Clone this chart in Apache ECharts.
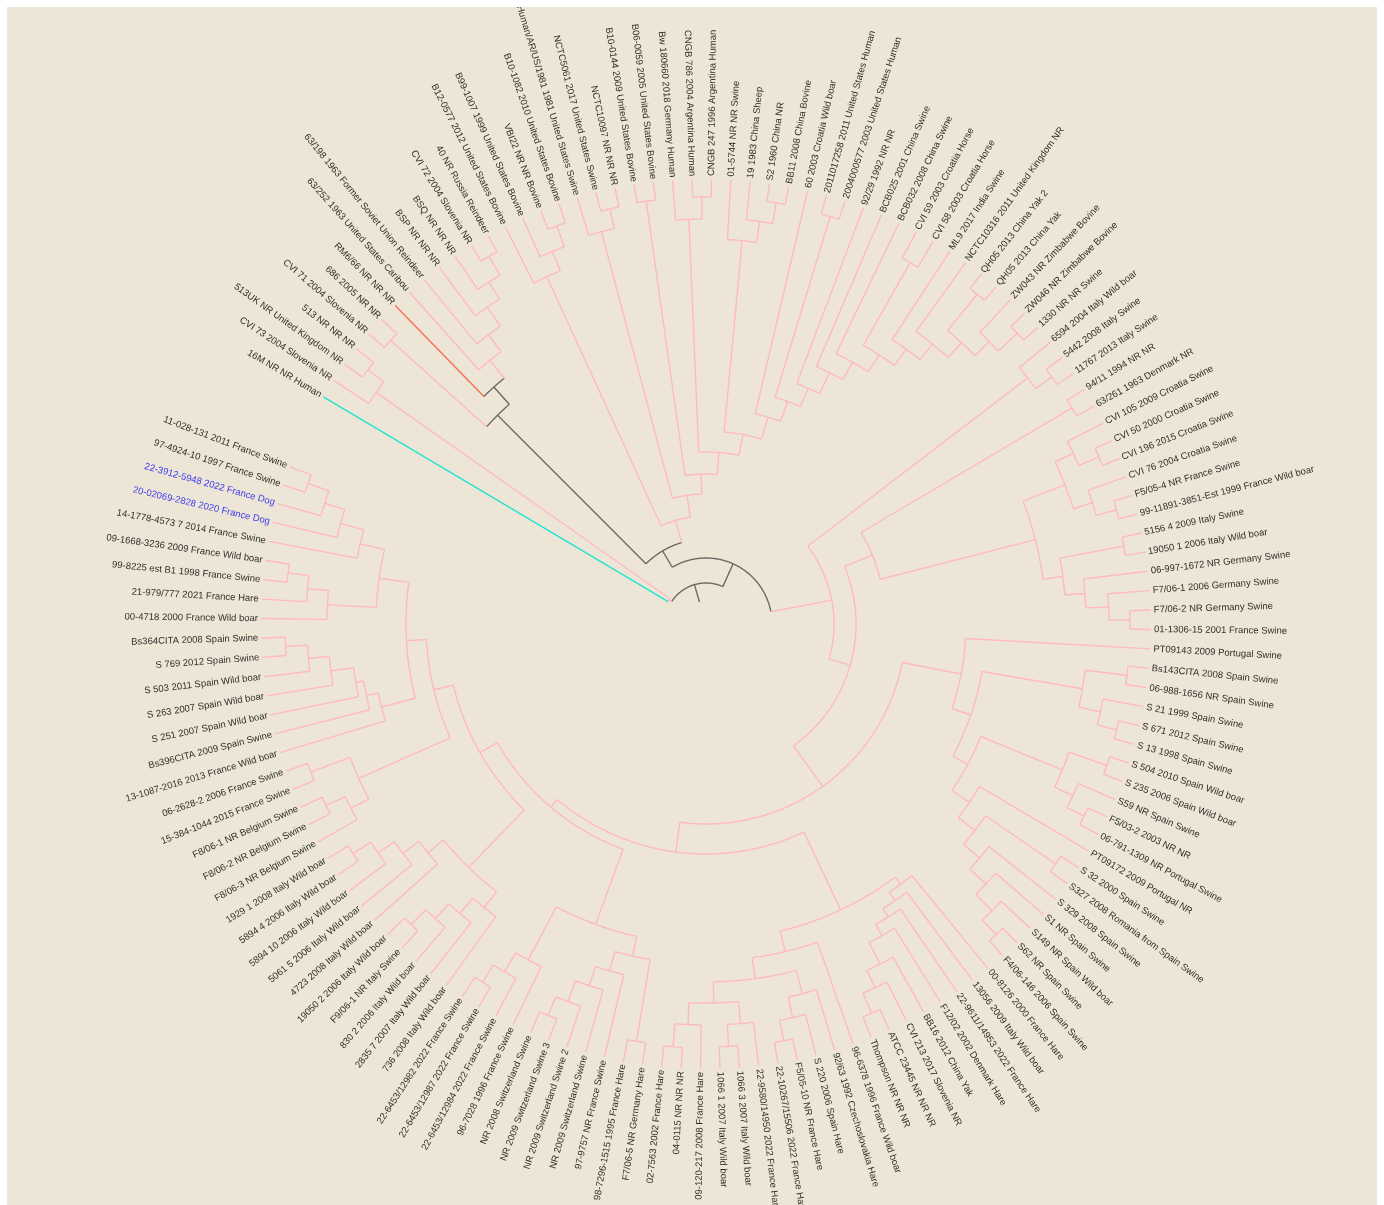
<!DOCTYPE html>
<html>
<head>
<meta charset="utf-8">
<script src="https://cdn.jsdelivr.net/npm/echarts@6/dist/echarts.min.js"></script>
<style>
  html, body { margin: 0; padding: 0; background: #ffffff; }
  #chart { position: absolute; left: 7px; top: 7px; width: 1370px; height: 1198px; background: #ede6d6; }
</style>
</head>
<body>
<div id="chart"></div>
<script>
// leaves in clockwise order starting from "16M NR NR Human"
const leafNames = [
  "16M NR NR Human", "CVI 73 2004 Slovenia NR", "513UK NR United Kingdom NR", "513 NR NR NR",
  "CVI 71 2004 Slovenia NR", "686 2005 NR NR", "RM6/66 NR NR NR", "63/252 1963 United States Caribou",
  "63/198 1963 Former Soviet Union Reindeer", "BSP NR NR NR", "BSQ NR NR NR", "CVI 72 2004 Slovenia NR",
  "40 NR Russia Reindeer", "B12-0577 2012 United States Bovine", "B99-1007 1999 United States Bovine",
  "VBI22 NR NR Bovine", "B10-1082 2010 United States Bovine", "Human/AR/US/1981 1981 United States Swine",
  "NCTC5061 2017 United States Swine", "NCTC10097 NR NR NR", "B10-0144 2009 United States Bovine",
  "B06-0059 2005 United States Bovine", "Bw 180660 2018 Germany Human", "CNGB 786 2004 Argentina Human",
  "CNGB 247 1996 Argentina Human", "01-5744 NR NR Swine", "19 1983 China Sheep", "S2 1960 China NR",
  "BB11 2008 China Bovine", "60 2003 Croatia Wild boar", "2011017258 2011 United States Human",
  "2004000577 2003 United States Human", "92/29 1992 NR NR", "BCB025 2001 China Swine",
  "BCB032 2008 China Swine", "CVI 59 2003 Croatia Horse", "CVI 58 2003 Croatia Horse",
  "ML9 2017 India Swine", "NCTC10316 2011 United Kingdom NR", "QH05 2013 China Yak 2",
  "QH05 2013 China Yak", "ZW043 NR Zimbabwe Bovine", "ZW046 NR Zimbabwe Bovine", "1330 NR NR Swine",
  "6594 2004 Italy Wild boar", "5442 2008 Italy Swine", "11767 2013 Italy Swine", "94/11 1994 NR NR",
  "63/261 1963 Denmark NR", "CVI 105 2009 Croatia Swine", "CVI 50 2000 Croatia Swine",
  "CVI 196 2015 Croatia Swine", "CVI 76 2004 Croatia Swine", "F5/05-4 NR France Swine",
  "99-11891-3851-Est 1999 France Wild boar", "5156 4 2009 Italy Swine", "19050 1 2006 Italy Wild boar",
  "06-997-1672 NR Germany Swine", "F7/06-1 2006 Germany Swine", "F7/06-2 NR Germany Swine",
  "01-1306-15 2001 France Swine", "PT09143 2009 Portugal Swine", "Bs143CITA 2008 Spain Swine",
  "06-988-1656 NR Spain Swine", "S 21 1999 Spain Swine", "S 671 2012 Spain Swine", "S 13 1998 Spain Swine",
  "S 504 2010 Spain Wild boar", "S 235 2006 Spain Wild boar", "S59 NR Spain Swine", "F5/03-2 2003 NR NR",
  "06-791-1309 NR Portugal Swine", "PT09172 2009 Portugal NR", "S 32 2000 Spain Swine",
  "S327 2008 Romania from Spain Swine", "S 329 2008 Spain Swine", "S1 NR Spain Swine",
  "S149 NR Spain Wild boar", "S62 NR Spain Swine", "F4/06-146 2006 Spain Swine", "00-8126 2000 France Hare",
  "13056 2009 Italy Wild boar", "22-9611/14953 2022 France Hare", "F12/02 2002 Denmark Hare",
  "BB16 2012 China Yak", "CVI 213 2017 Slovenia NR", "ATCC 23445 NR NR NR", "Thompson NR NR NR",
  "96-6378 1996 France Wild boar", "92/63 1992 Czechoslovakia Hare", "S 220 2006 Spain Hare",
  "F5/05-10 NR France Hare", "22-10267/15506 2022 France Hare", "22-9580/14950 2022 France Hare",
  "1066 3 2007 Italy Wild boar", "1066 1 2007 Italy Wild boar", "09-120-217 2008 France Hare",
  "04-0115 NR NR NR", "02-7563 2002 France Hare", "F7/06-5 NR Germany Hare", "98-7296-1515 1995 France Hare",
  "97-9757 NR France Swine", "NR 2009 Switzerland Swine", "NR 2009 Switzerland Swine 2",
  "NR 2009 Switzerland Swine 3", "NR 2008 Switzerland Swine", "96-7028 1996 France Swine",
  "22-6453/12984 2022 France Swine", "22-6453/12987 2022 France Swine", "22-6453/12982 2022 France Swine",
  "736 2008 Italy Wild boar", "2835 7 2007 Italy Wild boar", "830 2 2006 Italy Wild boar",
  "F9/06-1 NR Italy Swine", "19050 2 2006 Italy Wild boar", "4723 2008 Italy Wild boar",
  "5061 5 2006 Italy Wild boar", "5894 10 2006 Italy Wild boar", "5894 4 2006 Italy Wild boar",
  "1929 1 2008 Italy Wild boar", "F8/06-3 NR Belgium Swine", "F8/06-2 NR Belgium Swine",
  "F8/06-1 NR Belgium Swine", "15-384-1044 2015 France Swine", "06-2628-2 2006 France Swine",
  "13-1087-2016 2013 France Wild boar", "Bs396CITA 2009 Spain Swine", "S 251 2007 Spain Wild boar",
  "S 263 2007 Spain Wild boar", "S 503 2011 Spain Wild boar", "S 769 2012 Spain Swine",
  "Bs364CITA 2008 Spain Swine", "00-4718 2000 France Wild boar", "21-979/777 2021 France Hare",
  "99-8225 est B1 1998 France Swine", "09-1668-3236 2009 France Wild boar", "14-1778-4573 7 2014 France Swine",
  "20-02069-2828 2020 France Dog", "22-3912-5948 2022 France Dog", "97-4924-10 1997 France Swine",
  "11-028-131 2011 France Swine"
];
const blueLeaves = [138, 139];
const redLeaf = 7;
const cyanLeaf = 1;

// tree: leaf numbers, "(a,b)r" = internal node drawn at radius r
const tipRadius = 445;
const rootRadius = 23;
const cladeT1 = "(14,(15,(16,17)425)403)382";
const cladeT2 = "(18,(19,20)426)406";
const cladeT3 = "(21,22)427";
const cladeT4 = "(23,(24,25)427)405";
const cladeT5 = "(26,(27,(28,29)427)406)385";
const cladeT7 = "(31,32)426";
const cladeT11 = "(36,37)415";
const cladeT14 = "(40,41)427";
const cladeT16 = "(43,44)426";
const cladeT = `(${cladeT1},(${cladeT2},(${cladeT3},(${cladeT4},(${cladeT5},(30,(${cladeT7},(33,(34,(35,(${cladeT11},(38,(39,(${cladeT14},(42,${cladeT16})400)380)360)340)320)300)280)257)237)216)193)172)150)130)108`;
const cladeG2 = "((5,6)424,(7,(8,(9,(10,(11,(12,13)427)405)385)362)341)318)295";
const cladeC = "(1,(2,(3,4)423)403)44";
const cladeRA = "(45,(46,47)425)405";
const cladeRB = "(((50,(51,52)427)405,(53,(54,55)426)405)385,((56,57)425,(58,(59,(60,61)424)403)380)360)340";
const cladeRC = "(62,(((63,64)424,(65,(66,67)424)404)382,(((68,69)425,(70,(71,72)424)405)385,(73,((74,75)424,(76,(77,(78,(79,80)425)405)382)360)339)318)297)280)260";
const cladeRD1 = "(81,(82,(83,(84,(85,(86,(87,88)423)401)382)358)345)335)325";
const cladeQ1 = "(((97,(98,99)424)401,(94,(95,96)423)401)379,(90,(91,(92,93)424)403)382)358";
const cladeRE1 = "((100,101)423,(102,(103,(104,(105,106)422)402)380)360)340";
const cladeRE2 = "(107,(108,(109,110)422)402)380";
const cladeRE3 = "(111,(112,(113,(114,115)421)400)380)360";
const cladeRE4 = "(116,(117,(118,(119,120)421)400)380)360";
const cladeRE5 = "((121,(122,123)421)400,(124,125)422)380";
const cladeRE6 = "(126,(127,(128,(129,(130,(131,132)421)399)378)355)347)335";
const cladeRE7 = "((133,(134,(135,136)421)400)379,(137,(138,(139,(140,141)422)400)379)355)330";

const cladeRD = `(${cladeRD1},(89,${cladeQ1})337)316`;
const cladeRE = `((${cladeRE1},${cladeRE2})320,((${cladeRE3},${cladeRE4})340,(${cladeRE5},(${cladeRE6},${cladeRE7})300)280)260)240`;
const cladeR = `(${cladeRA},(((48,49)425,${cladeRB})180,(${cladeRC},(${cladeRD},${cladeRE})230)200)150)128`;
const treeText = `(${cladeC},((${cladeG2},${cladeT})85,${cladeR})66)41`;

const firstAngle = 210.7;
const angleStep = 2.5;

function parseTree(s) {
  let i = 0;
  function num() {
    let t = "";
    while (i < s.length && /[0-9.]/.test(s[i])) t += s[i++];
    return +t;
  }
  function node() {
    if (s[i] === "(") {
      i++;
      const kids = [node()];
      while (s[i] === ",") { i++; kids.push(node()); }
      i++;
      return { kids: kids, r: num() };
    }
    return { leaf: num(), r: tipRadius };
  }
  return node();
}

const root = parseTree(treeText);

function layout(n) {
  if (n.leaf) {
    n.angle = firstAngle + angleStep * (n.leaf - 1);
    n.leaves = [n.leaf];
    return;
  }
  n.kids.forEach(layout);
  const angs = n.kids.map(k => k.angle);
  n.a0 = Math.min.apply(null, angs);
  n.a1 = Math.max.apply(null, angs);
  n.angle = (n.a0 + n.a1) / 2;
  n.leaves = [].concat.apply([], n.kids.map(k => k.leaves));
}
layout(root);

// 0 pink, 1 grey, 2 red, 3 cyan
const edgeRows = [];
const labelRows = [];
function collect(n, parentR) {
  const onPath = n.leaves.indexOf(redLeaf) >= 0 && !n.leaf;
  let edgeKind = onPath ? 1 : 0;
  if (n.leaf === redLeaf) edgeKind = 2;
  if (n.leaf === cyanLeaf) edgeKind = 3;
  edgeRows.push([n.r, n.angle, parentR, n.leaf ? n.angle : n.a0, n.leaf ? n.angle : n.a1, edgeKind, onPath ? 1 : 0]);
  if (n.leaf) {
    labelRows.push([n.r, n.angle, n.leaf]);
  } else {
    n.kids.forEach(k => collect(k, n.r));
  }
}
collect(root, rootRadius);
const lineColors = ["#ffb8c6", "#6b6b66", "#ff6a55", "#22e3d4"];

const chart = echarts.init(document.getElementById("chart"));
const option = {
  animation: false,
  polar: { center: [699, 617], radius: 600 },
  angleAxis: { type: "value", min: 0, max: 360, startAngle: 0, clockwise: true, show: false },
  radiusAxis: { type: "value", min: 0, max: 600, show: false },
  series: [
    {
      type: "custom",
      coordinateSystem: "polar",
      silent: true,
      data: edgeRows,
      renderItem(params, api) {
        const r = api.value(0), ang = api.value(1), pr = api.value(2);
        const a0 = api.value(3), a1 = api.value(4);
        const ek = api.value(5), ak = api.value(6);
        const p0 = api.coord([pr, ang % 360]);
        const p1 = api.coord([r, ang % 360]);
        const kids = [{
          type: "line",
          shape: { x1: p0[0], y1: p0[1], x2: p1[0], y2: p1[1] },
          style: { stroke: lineColors[ek], lineWidth: 1.4 }
        }];
        if (a1 > a0) {
          const pts = [];
          for (let a = a0; a < a1; a += 0.5) pts.push(api.coord([r, a % 360]));
          pts.push(api.coord([r, a1 % 360]));
          kids.push({
            type: "polyline",
            shape: { points: pts },
            style: { stroke: lineColors[ak], lineWidth: 1.4, fill: "none" }
          });
        }
        return { type: "group", children: kids };
      }
    },
    {
      type: "custom",
      coordinateSystem: "polar",
      silent: true,
      data: labelRows,
      renderItem(params, api) {
        const ang = api.value(1) % 360;
        const idx = api.value(2);
        const p = api.coord([api.value(0) + 3, ang]);
        const flip = ang > 90 && ang < 270;
        const rot = flip ? -(ang - 180) * Math.PI / 180 : -ang * Math.PI / 180;
        return {
          type: "text",
          x: p[0],
          y: p[1],
          rotation: rot,
          style: {
            text: leafNames[idx - 1],
            fill: blueLeaves.indexOf(idx) >= 0 ? "#3b3bef" : "#2f2f2b",
            font: "9.5px 'Liberation Sans', Arial, sans-serif",
            align: flip ? "right" : "left",
            verticalAlign: "middle"
          }
        };
      }
    }
  ]
};
chart.setOption(option);
</script>
</body>
</html>
